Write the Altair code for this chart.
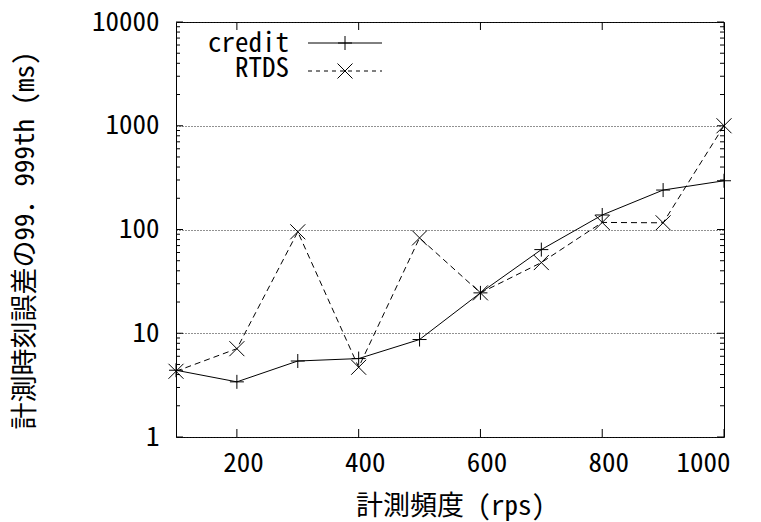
import altair as alt
import pandas as pd

# ---- data ----
rps = [100, 200, 300, 400, 500, 600, 700, 800, 900, 1000]
credit = [4.4, 3.4, 5.4, 5.7, 8.7, 24.5, 64, 138, 240, 295]
rtds = [4.3, 7.1, 95, 4.7, 83, 24.5, 48, 117, 116, 1000]
series_names = ["credit", "RTDS"]
x_tick_values = [200, 400, 600, 800, 1000]
y_tick_values = [1, 10, 100, 1000, 10000]
y_minor_values = [m * 10 ** k for k in range(4) for m in range(2, 10)]

FONT = "'Noto Sans Mono CJK JP', 'Noto Sans CJK JP', sans-serif"
FS = 27
W, H = 548, 415

rows = []
for name, vals in zip(series_names, [credit, rtds]):
    for r, v in zip(rps, vals):
        rows.append({"rps": r, "value": v, "series": name})
df = pd.DataFrame(rows)

xscale = alt.Scale(domain=[100, 1000], nice=False, zero=False)
yscale = alt.Scale(type="log", domain=[1, 10000], nice=False)

PLUS = "M-1,0L1,0M0,-1L0,1"
CROSS = "M-1,-1L1,1M-1,1L1,-1"

base = alt.Chart(df).encode(
    x=alt.X("rps:Q", scale=xscale,
            axis=alt.Axis(values=x_tick_values, title="計測頻度 (rps)", format="d",
                          grid=False, ticks=False, tickSize=0, domain=False,
                          labelPadding=13, labelOffset=6,
                          titleY=69, titleBaseline="middle")),
    y=alt.Y("value:Q", scale=yscale,
            axis=alt.Axis(values=y_tick_values, title="計測時刻誤差の99．999th (ms)",
                          grid=True, gridDash=[1, 2], gridColor="#222",
                          ticks=False, tickSize=0, domain=False, format="d",
                          labelPadding=17, titleX=-151, titleY=218,
                          titleAngle=270, titleBaseline="middle", titleAlign="center")),
)

credit_line = base.transform_filter("datum.series == 'credit'").mark_line(
    color="black", strokeWidth=1)
credit_pts = base.transform_filter("datum.series == 'credit'").mark_point(
    shape=PLUS, filled=False, color="black", strokeWidth=1, size=196, opacity=1)
rtds_line = base.transform_filter("datum.series == 'RTDS'").mark_line(
    color="black", strokeWidth=1, strokeDash=[6, 4])
rtds_pts = base.transform_filter("datum.series == 'RTDS'").mark_point(
    shape=CROSS, filled=False, color="black", strokeWidth=1, size=225, opacity=1)

# inward ticks
ymaj = pd.DataFrame({"v": y_tick_values})
ymin = pd.DataFrame({"v": y_minor_values})
xmaj = pd.DataFrame({"v": x_tick_values})

def yticks(d, length):
    yenc = alt.Y("v:Q", scale=yscale)
    left = alt.Chart(d).mark_rule(color="black", strokeWidth=1).encode(
        y=yenc, x=alt.value(0), x2=alt.value(length))
    right = alt.Chart(d).mark_rule(color="black", strokeWidth=1).encode(
        y=yenc, x=alt.value(W - length), x2=alt.value(W))
    return left + right

def xticks(d, length):
    xenc = alt.X("v:Q", scale=xscale)
    bottom = alt.Chart(d).mark_rule(color="black", strokeWidth=1).encode(
        x=xenc, y=alt.value(H - length), y2=alt.value(H))
    top = alt.Chart(d).mark_rule(color="black", strokeWidth=1).encode(
        x=xenc, y=alt.value(0), y2=alt.value(length))
    return bottom + top

ticks = yticks(ymaj, 7) + yticks(ymin, 4) + xticks(xmaj, 8)

# legend (gnuplot style: label, then line sample with marker)
leg = pd.DataFrame({"series": series_names})
def legend_row(name, ty, ly, dash, shape, size):
    d = leg[leg.series == name]
    txt = alt.Chart(d).mark_text(align="right", baseline="middle", font=FONT,
                                 fontSize=FS, color="black").encode(
        text="series:N", x=alt.value(113), y=alt.value(ty))
    rule_kw = dict(color="black", strokeWidth=1)
    if dash:
        rule_kw["strokeDash"] = dash
    line = alt.Chart(d).mark_rule(**rule_kw).encode(
        x=alt.value(132), x2=alt.value(206), y=alt.value(ly))
    pt = alt.Chart(d).mark_point(shape=shape, filled=False, color="black",
                                 strokeWidth=1, size=size, opacity=1).encode(
        x=alt.value(169), y=alt.value(ly))
    return txt + line + pt

legend = legend_row("credit", 22, 21, None, PLUS, 196) + \
    legend_row("RTDS", 47, 49, [4, 4], CROSS, 225)

chart = alt.layer(
    ticks, rtds_line, credit_line, rtds_pts, credit_pts, legend
).properties(
    width=W, height=H,
    background="white",
    autosize=alt.AutoSizeParams(type="none"),
    padding={"left": 176, "top": 22, "right": 37, "bottom": 85},
).configure_view(
    stroke="black", strokeWidth=1
).configure_axis(
    labelFont=FONT, titleFont=FONT, labelFontSize=FS, titleFontSize=FS,
    labelColor="black", titleColor="black", titleFontWeight="normal",
)

chart.save("out.html", embed_options={"renderer": "svg", "actions": False})
